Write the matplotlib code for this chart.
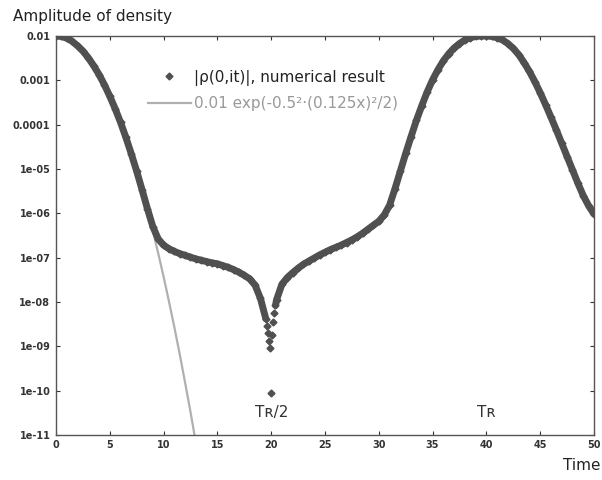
import numpy as np
import matplotlib
matplotlib.use('Agg')
import matplotlib.pyplot as plt
from matplotlib.lines import Line2D

# numerical result |rho(0,t)|, log10 values
t_main = [0, 0.5, 1, 1.5, 2, 2.5, 3, 3.5, 4, 4.5, 5, 5.5, 6, 6.5, 7, 7.5, 8, 8.5, 9, 9.5,
          10, 10.5, 11, 11.5, 12, 12.5, 13, 13.5, 14, 14.5, 15, 15.5, 16, 16.5, 17, 17.5,
          18, 18.5, 19, 19.5, 19.6, 19.7, 19.8, 19.9, 20.0, 20.1, 20.2, 20.3, 20.4, 20.5,
          21, 21.5, 22, 22.5, 23, 23.5, 24, 24.5, 25, 25.5, 26, 26.5, 27, 27.5, 28, 28.5,
          29, 29.5, 30, 30.5, 31, 31.5, 32, 32.5, 33, 33.5, 34, 34.5, 35, 35.5, 36, 36.5,
          37, 37.5, 38, 38.5, 39, 39.5, 40, 40.5, 41, 41.5, 42, 42.5, 43, 43.5, 44, 44.5,
          45, 45.5, 46, 46.5, 47, 47.5, 48, 48.5, 49, 49.5, 50]
log_main = [-2.00, -2.01, -2.05, -2.12, -2.22, -2.34, -2.49, -2.67, -2.87, -3.10, -3.36, -3.64,
            -3.95, -4.29, -4.66, -5.05, -5.47, -5.90, -6.30, -6.58,
            -6.72, -6.80, -6.86, -6.91, -6.95, -6.99, -7.03, -7.06, -7.09, -7.12, -7.14, -7.18,
            -7.22, -7.27, -7.33, -7.40, -7.48, -7.62, -7.92, -8.38, -8.55, -8.70, -8.88, -9.05,
            -10.05, -8.75, -8.45, -8.25, -8.08, -7.95,
            -7.60, -7.45, -7.34, -7.24, -7.15, -7.08, -7.01, -6.94, -6.88, -6.82, -6.77, -6.72,
            -6.66, -6.60, -6.53, -6.45, -6.36, -6.27, -6.18, -6.04, -5.82, -5.45, -5.05, -4.65,
            -4.27, -3.90, -3.57, -3.26, -2.99, -2.76, -2.56, -2.40, -2.27, -2.17, -2.09, -2.04,
            -2.01, -2.00, -2.00, -2.01, -2.04, -2.09, -2.17, -2.28, -2.42, -2.60, -2.80, -3.03,
            -3.28, -3.55, -3.83, -4.12, -4.42, -4.72, -5.02, -5.32, -5.60, -5.83, -6.02]

# gaussian reference curve, log10 values
t_gauss = [0, 0.5, 1, 1.5, 2, 2.5, 3, 3.5, 4, 4.5, 5, 5.5, 6, 6.5, 7, 7.5, 8, 8.5, 9, 9.5,
           10, 10.5, 11, 11.5, 12, 12.5, 13]
log_gauss = [-2.00, -2.01, -2.05, -2.12, -2.22, -2.34, -2.49, -2.67, -2.87, -3.10, -3.36, -3.64,
             -3.95, -4.29, -4.66, -5.05, -5.47, -5.92, -6.40, -6.90, -7.43, -7.99, -8.57, -9.18,
             -9.82, -10.48, -11.18]

ytick_vals = [1e-2, 1e-3, 1e-4, 1e-5, 1e-6, 1e-7, 1e-8, 1e-9, 1e-10, 1e-11]
ytick_labels = ['0.01', '0.001', '0.0001', '1e-05', '1e-06', '1e-07', '1e-08', '1e-09', '1e-10', '1e-11']
xtick_vals = [0, 5, 10, 15, 20, 25, 30, 35, 40, 45, 50]

t = np.array(t_main)
rho = 10.0 ** np.array(log_main)
tg = np.array(t_gauss)
g = 10.0 ** np.array(log_gauss)

fig = plt.figure(figsize=(6.02, 4.8), dpi=100)
ax = fig.add_axes([0.093, 0.094, 0.8937, 0.831])

band = '#505050'
left = t <= 19.5
right = t >= 20.4
ax.plot(tg, g, color='#b0b0b0', lw=1.6, zorder=2)
ax.plot(t[left], rho[left], color=band, lw=5, solid_capstyle='round', zorder=3)
ax.plot(t[right], rho[right], color=band, lw=5, solid_capstyle='round', zorder=3)
ax.plot(t, rho, 'D', color=band, ms=3.5, zorder=4)

ax.set_yscale('log')
ax.set_xlim(0, 50)
ax.set_ylim(1e-11, 1e-2)
ax.set_yticks(ytick_vals)
ax.set_yticklabels(ytick_labels)
ax.set_xticks(xtick_vals)
ax.minorticks_off()
ax.tick_params(direction='in', length=3, width=0.8, labelsize=7, colors='#333333',
               top=True, right=True, pad=4)
for lab in ax.get_xticklabels() + ax.get_yticklabels():
    lab.set_fontweight('bold')
for sp in ax.spines.values():
    sp.set_color('#555555')
    sp.set_linewidth(1.0)

ax.text(20, 2.2e-11, 'Tʀ/2', ha='center', va='bottom', fontsize=11, color='#333333')
ax.text(40, 2.2e-11, 'Tʀ', ha='center', va='bottom', fontsize=11, color='#333333')

handles = [Line2D([], [], marker='D', color=band, ls='none', ms=3.5),
           Line2D([], [], color='#b0b0b0', lw=1.6)]
labels = ['|ρ(0,it)|, numerical result', '0.01 exp(-0.5²·(0.125x)²/2)']
leg = ax.legend(handles, labels, loc='upper left', bbox_to_anchor=(0.145, 0.95),
                frameon=False, fontsize=11, handlelength=2.8, handletextpad=0.2,
                labelspacing=0.7)
leg.get_texts()[0].set_color('#222222')
leg.get_texts()[1].set_color('#999999')

fig.text(0.022, 0.965, 'Amplitude of density', fontsize=11, color='#222222', va='center')
fig.text(0.997, 0.03, 'Time', fontsize=11, color='#222222', ha='right', va='center')

fig.savefig('out.png', dpi=100)
